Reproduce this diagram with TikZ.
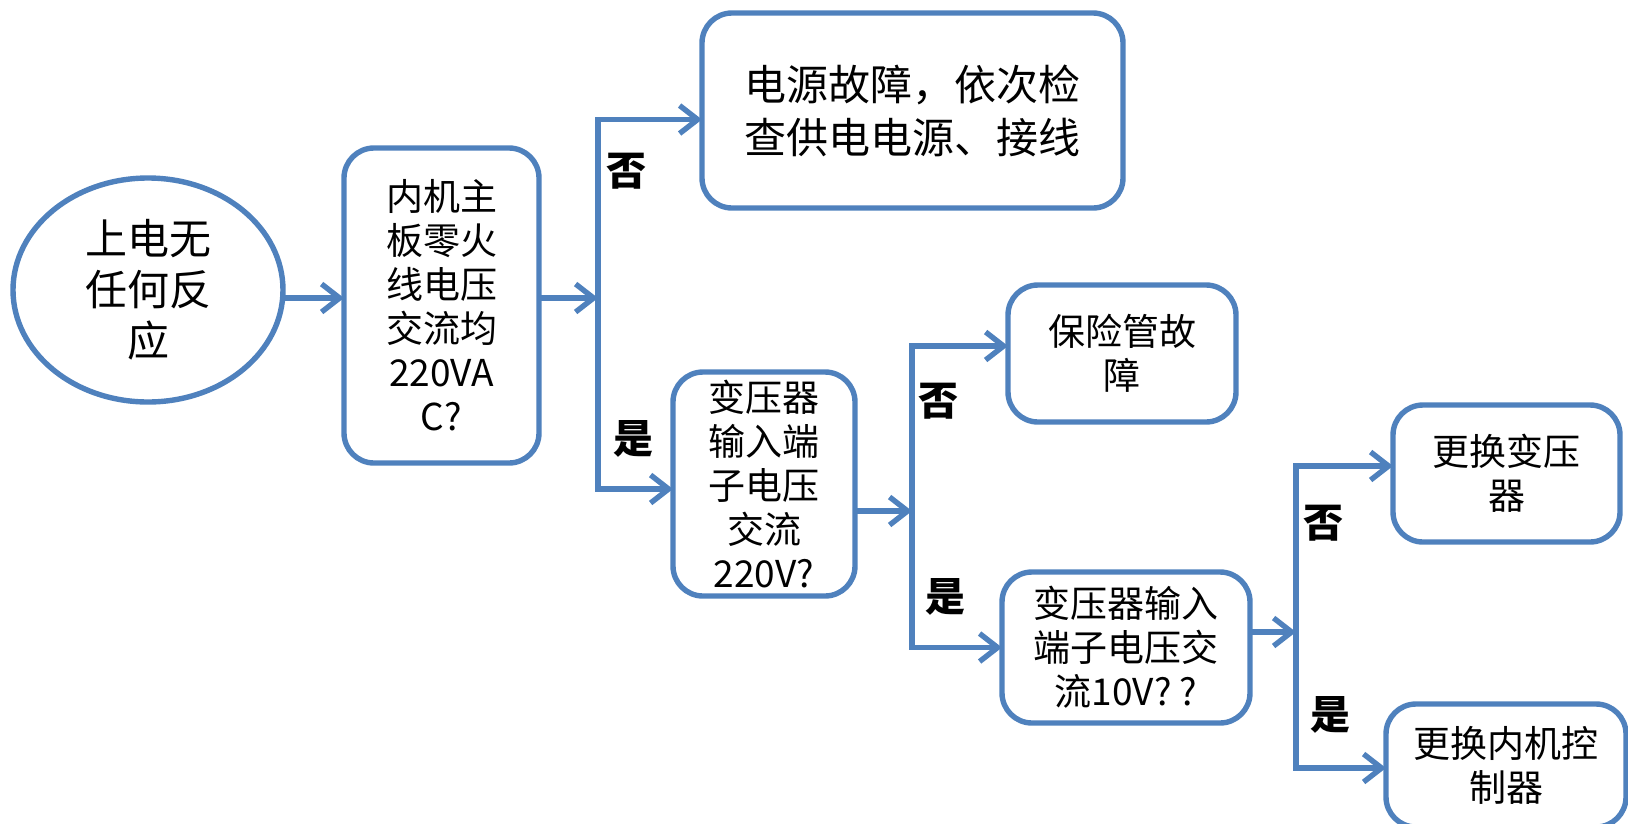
\documentclass[tikz,border=0pt]{standalone}
\usepackage{fontspec}
\newfontfamily\cjk{Noto Sans CJK SC}
\usetikzlibrary{shapes.geometric,arrows.meta}
\definecolor{lineblue}{RGB}{79,129,189}

\begin{document}
\begin{tikzpicture}[
		x=1pt, y=-1pt,
		>={Straight Barb[length=18pt,width=28pt]},
		line width=5.4pt,
		every node/.style = {
			font=\cjk\fontsize{37}{44}\selectfont,
			align=center,
			inner sep=0pt, outer sep=0pt
		},
		box/.style = {
			draw=lineblue, rectangle, rounded corners=30pt, fill=white
		},
		bigtext/.style = {font=\cjk\fontsize{42}{51}\selectfont},
		answer/.style = {font=\cjk\bfseries\fontsize{40}{44}\selectfont},
		flow/.style = {draw=lineblue, ->}
		]
		\useasboundingbox (0,0) rectangle (1628,823);
		\clip (0,0) rectangle (1628,823);
		%\draw (0,0) grid[step=100] (1628,823);
		\node[box, ellipse, bigtext, minimum width=270pt, minimum height=224pt] (start) at (148,290) {上电无\\任何反\\应};
		\node[box, minimum width=195pt, minimum height=315pt] (mains) at (441.5,305.5) {内机主\\板零火\\线电压\\交流均\\220VA\\C?};
		\node[box, bigtext, font=\cjk\fontsize{42}{53}\selectfont, minimum width=421pt, minimum height=195pt] (power) at (912.5,110.5) {电源故障，依次检\\查供电电源、接线};
		\node[box, minimum width=182pt, minimum height=224pt] (trin) at (764,484) {变压器\\输入端\\子电压\\交流\\220V?};
		\node[box, minimum width=228pt, minimum height=137pt] (fuse) at (1122,353.5) {保险管故\\障};
		\node[box, minimum width=248pt, minimum height=151pt] (trout) at (1126,647.5) {变压器输入\\端子电压交\\流10V? ?};
		\node[box, minimum width=227pt, minimum height=137pt] (newtr) at (1506.5,473.5) {更换变压\\器};
		\node[box, minimum width=240pt, minimum height=123pt] (newpcb) at (1506,765.5) {更换内机控\\制器};

		\coordinate (fork1) at (598,298);
		\coordinate (fork2) at (912,511);
		\coordinate (fork3) at (1296,632);

		\draw[flow] (start.east |- fork1) -- (mains.west |- fork1);
		\draw[flow] (mains.east |- fork1) -- (fork1);
		\draw[flow] (fork1) |- ([yshift=-9pt]power.west);
		\draw[flow] (fork1) |- ([yshift=-5pt]trin.west);
		\draw[flow] (trin.east |- fork2) -- (fork2);
		\draw[flow] (fork2) |- ([yshift=7.5pt]fuse.west);
		\draw[flow] (fork2) |- (trout.west);
		\draw[flow] (trout.east |- fork3) -- (fork3);
		\draw[flow] (fork3) |- ([yshift=7.5pt]newtr.west);
		\draw[flow] (fork3) |- ([yshift=-2.5pt]newpcb.west);

		\node[answer] (no1) at (626,171) {否};
		\node[answer] (yes1) at (633,439) {是};
		\node[answer] (no2) at (938,401) {否};
		\node[answer] (yes2) at (945,597) {是};
		\node[answer] (no3) at (1323,523) {否};
		\node[answer] (yes3) at (1330,715) {是};
	\end{tikzpicture}
\end{document}
